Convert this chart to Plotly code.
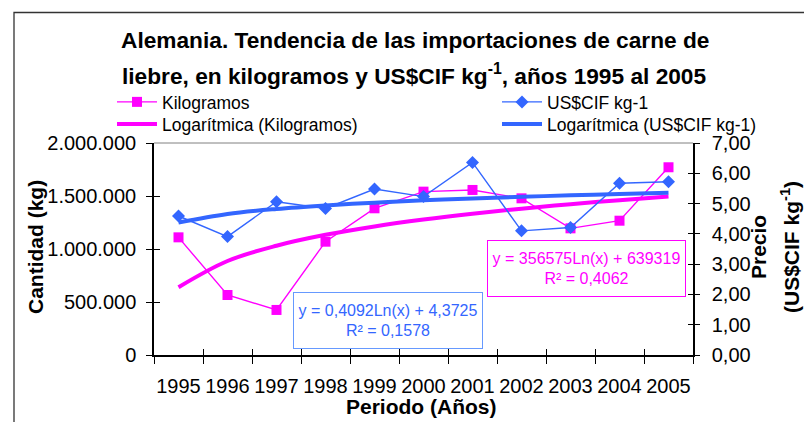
import plotly.graph_objects as go
import numpy as np

# ---------------- data ----------------
years = ["1995", "1996", "1997", "1998", "1999", "2000", "2001", "2002", "2003", "2004", "2005"]
kilogramos = [1110000, 566000, 425000, 1069000, 1384000, 1541000, 1557000, 1478000, 1195000, 1267000, 1771000]
precio = [4.59, 3.91, 5.06, 4.84, 5.48, 5.23, 6.36, 4.10, 4.21, 5.67, 5.72]
# logarithmic trend coefficients printed on the chart: y = a*Ln(x) + b
kg_trend_a, kg_trend_b = 356575, 639319
pr_trend_a, pr_trend_b = 0.4092, 4.3725
kg_r2 = "0,4062"
pr_r2 = "0,1578"
y_ticks_kg = [0, 500000, 1000000, 1500000, 2000000]
y_ticks_pr = [0, 1, 2, 3, 4, 5, 6, 7]

xi = np.arange(1, len(years) + 1)
kg_trend = kg_trend_a * np.log(xi) + kg_trend_b
pr_trend = pr_trend_a * np.log(xi) + pr_trend_b

MAG = "#FF00FF"
BLUE = "#3366FF"
FONT = "Liberation Sans, Arial, sans-serif"

# plot area in pixels
W, H = 804, 422
L, R, T, B = 154, 693, 143, 355
def px(x):
    return (x - L) / (R - L)
def py(y):
    return (B - y) / (B - T)

fig = go.Figure()
fig.add_trace(go.Scatter(x=years, y=kilogramos, name="Kilogramos", mode="lines+markers",
                         line=dict(color=MAG, width=1.4),
                         marker=dict(symbol="square", size=10, color=MAG),
                         legend="legend", yaxis="y"))
fig.add_trace(go.Scatter(x=years, y=kg_trend, name="Logarítmica (Kilogramos)", mode="lines",
                         line=dict(color=MAG, width=4, shape="spline"),
                         legend="legend2", yaxis="y"))
fig.add_trace(go.Scatter(x=years, y=precio, name="US$CIF kg-1", mode="lines+markers",
                         line=dict(color=BLUE, width=1.4),
                         marker=dict(symbol="diamond", size=10, color=BLUE),
                         legend="legend3", yaxis="y2"))
fig.add_trace(go.Scatter(x=years, y=pr_trend, name="Logarítmica (US$CIF kg-1)", mode="lines",
                         line=dict(color=BLUE, width=4, shape="spline"),
                         legend="legend4", yaxis="y2"))

tickfont = dict(family=FONT, size=20, color="black")
legfont = dict(family=FONT, size=17.5, color="black")
def leg(xp, yp):
    return dict(x=px(xp), y=py(yp), xanchor="left", yanchor="top", font=legfont,
                bgcolor="rgba(0,0,0,0)", borderwidth=0, itemwidth=40)

fig.update_layout(
    width=W, height=H,
    margin=dict(l=L, r=W - R, t=T, b=H - B, pad=0, autoexpand=False),
    paper_bgcolor="white", plot_bgcolor="white",
    separators=",.",
    font=dict(family=FONT, color="black"),
    showlegend=True,
    xaxis=dict(type="category", categoryarray=years, range=[-0.5, 10.5],
               tickson="boundaries", ticks="outside", ticklen=7, tickcolor="black",
               showline=True, linecolor="black", linewidth=1.5, showgrid=False,
               tickfont=tickfont, tickangle=0, ticklabelstandoff=12, zeroline=False),
    xaxis2=dict(overlaying="x", range=[-0.5, 10.5], tick0=-0.5, dtick=1,
                ticks="inside", ticklen=6, tickcolor="black", showticklabels=False,
                showgrid=False, showline=False, zeroline=False, side="bottom"),
    yaxis=dict(range=[0, 2000000], tickvals=y_ticks_kg, tickformat=",.0f",
               ticks="outside", ticklen=6, tickcolor="black",
               showline=True, linecolor="black", linewidth=1.5, showgrid=False,
               zeroline=False, tickfont=tickfont, ticklabelstandoff=6),
    yaxis2=dict(range=[0, 7], tickvals=y_ticks_pr, tickformat=".2f", overlaying="y", side="right",
                ticks="outside", ticklen=5, tickcolor="black",
                showline=True, linecolor="black", linewidth=1.5, showgrid=False,
                zeroline=False, tickfont=tickfont, ticklabelstandoff=8),
    yaxis3=dict(range=[0, 2000000], tickvals=y_ticks_kg, overlaying="y", side="left",
                ticks="inside", ticklen=6, tickcolor="black", showticklabels=False,
                showgrid=False, showline=False, zeroline=False),
    yaxis4=dict(range=[0, 7], tickvals=y_ticks_pr, overlaying="y", side="right",
                ticks="inside", ticklen=5, tickcolor="black", showticklabels=False,
                showgrid=False, showline=False, zeroline=False),
    legend=leg(112, 84),
    legend2=leg(112, 106),
    legend3=leg(497, 84),
    legend4=leg(497, 106),
)

# hidden helper traces so that overlay tick axes render
fig.add_trace(go.Scatter(x=[None], y=[None], xaxis="x2", yaxis="y3", showlegend=False, hoverinfo="skip"))
fig.add_trace(go.Scatter(x=[None], y=[None], xaxis="x2", yaxis="y4", showlegend=False, hoverinfo="skip"))

# plot area top border and outer chart frame
fig.add_shape(type="line", xref="paper", yref="paper", x0=0, x1=1, y0=1, y1=1,
              line=dict(color="#808080", width=1))
fig.add_shape(type="rect", xref="paper", yref="paper", x0=px(14), x1=px(812), y0=py(432), y1=py(12.5),
              line=dict(color="#333333", width=1.3), layer="below")

ann = []
TF = dict(family=FONT, size=22.7, color="black")
AF = dict(family=FONT, size=21, color="black")
# title (two lines)
ann.append(dict(text="<b>Alemania. Tendencia de las importaciones de carne de</b>",
                x=px(414.5), y=py(40), xref="paper", yref="paper", showarrow=False,
                xanchor="center", yanchor="middle", font=TF))
ann.append(dict(text="<b>liebre, en kilogramos y US$CIF kg<sup>-1</sup>, años 1995 al 2005</b>",
                x=px(414), y=py(74.5), xref="paper", yref="paper", showarrow=False,
                xanchor="center", yanchor="middle", font=TF))
# axis titles
ann.append(dict(text="<b>Cantidad (kg)</b>", x=px(35), y=py(247), xref="paper", yref="paper",
                showarrow=False, textangle=-90, xanchor="center", yanchor="middle", font=AF))
ann.append(dict(text="<b>Periodo (Años)</b>", x=px(421.5), y=py(406), xref="paper", yref="paper",
                showarrow=False, xanchor="center", yanchor="middle", font=AF))
ann.append(dict(text="<b>Precio</b>", x=px(758), y=py(247), xref="paper", yref="paper",
                showarrow=False, textangle=-90, xanchor="center", yanchor="middle", font=AF))
ann.append(dict(text="<b>(US$CIF kg<sup>-1</sup>)</b>", x=px(790), y=py(247), xref="paper", yref="paper",
                showarrow=False, textangle=-90, xanchor="center", yanchor="middle", font=AF))
# trendline equation boxes
ann.append(dict(text=f"y = {str(pr_trend_a).replace('.', ',')}Ln(x) + {str(pr_trend_b).replace('.', ',')}<br>R² = {pr_r2}",
                x=px(388), y=py(320.5), xref="paper", yref="paper", showarrow=False,
                xanchor="center", yanchor="middle", align="center", width=186, height=53,
                bgcolor="white", bordercolor="#6699FF", borderwidth=1, borderpad=1,
                font=dict(family=FONT, size=16, color=BLUE)))
ann.append(dict(text=f"y = {kg_trend_a}Ln(x) + {kg_trend_b}<br>R² = {kg_r2}",
                x=px(586.5), y=py(268.5), xref="paper", yref="paper", showarrow=False,
                xanchor="center", yanchor="middle", align="center", width=195, height=53,
                bgcolor="white", bordercolor=MAG, borderwidth=1, borderpad=1,
                font=dict(family=FONT, size=16, color=MAG)))
fig.update_layout(annotations=ann)

# remove the default 8px page margin so the 804x422 figure fills the window
fig.write_html("out.html", config={"displayModeBar": False},
               post_script="document.body.style.margin='0px';")
